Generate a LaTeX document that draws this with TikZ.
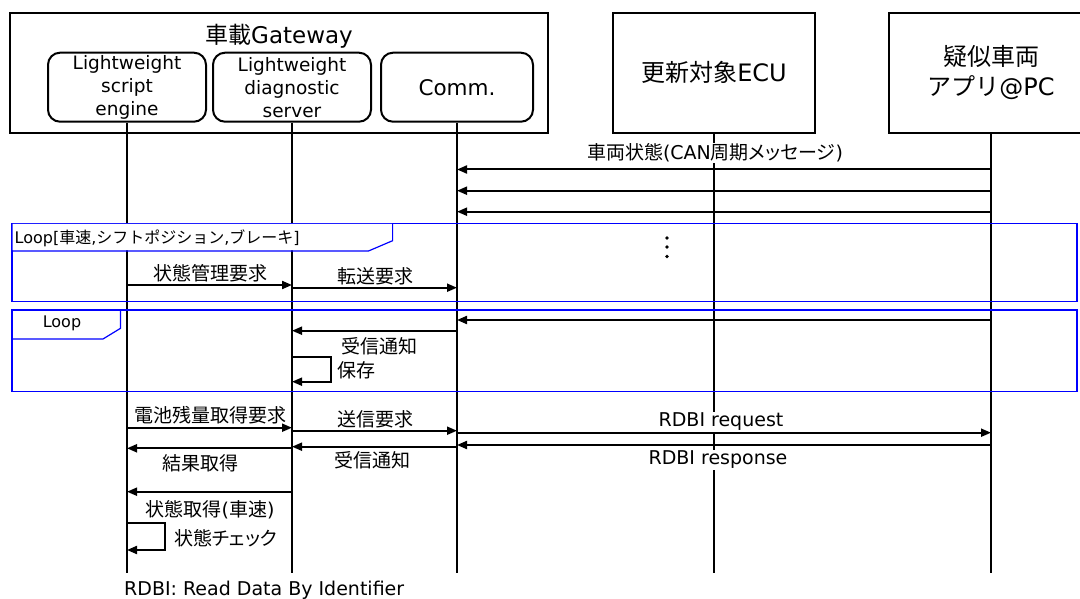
\documentclass[tikz,border=0pt]{standalone}
\usepackage{fontspec}
\setmainfont{DejaVu Sans}
\newfontfamily\jpfont{Noto Sans CJK JP}
\newfontfamily\jppfont{Noto Sans CJK JP}[RawFeature=+palt]
\newcommand\jtxt[1]{{\jpfont #1}}
\newcommand\jptxt[1]{{\jppfont #1}}
\usetikzlibrary{arrows.meta}
\begin{document}
\begin{tikzpicture}[x=1pt,y=-1pt,
  box/.style={draw, line width=2pt, inner sep=0pt, align=center},
  comp/.style={draw, line width=2pt, rounded corners=12pt, minimum width=158pt,
    minimum height=69pt, inner sep=0pt, align=center, font=\fontsize{18.5}{23}\selectfont},
  life/.style={line width=2pt},
  msg/.style={line width=2pt, -{Triangle[length=10pt,width=8pt]}},
  lbl/.style={font=\fontsize{19}{23}\selectfont, inner sep=1pt},
  frame/.style={draw=blue, line width=1.2pt},
  looplbl/.style={font=\fontsize{16}{19}\selectfont, inner sep=0pt}]
\useasboundingbox (0,0) rectangle (1080,599);
\fill[white] (0,0) rectangle (1080,599);

% heads
\draw[box] (10,12.7) rectangle (547.7,132.7);
\node[font=\fontsize{23}{27}\selectfont, inner sep=0pt] (gwt) at (279,36.7) {\jtxt{車載}Gateway};
\node[comp] (eng) at (127,87.2) {Lightweight\\script\\engine};
\node[comp] (srv) at (292,87.2) {Lightweight\\diagnostic\\server};
\node[comp, minimum width=152pt, font=\fontsize{21.5}{25}\selectfont] (com) at (457,87.2) {Comm.};
\node[box, minimum width=202pt, minimum height=120pt, font=\fontsize{24}{30}\selectfont] (ecu) at (714,72.7) {\jtxt{更新対象}ECU};
\node[box, minimum width=204pt, minimum height=120pt, font=\fontsize{24}{30}\selectfont] (pc) at (991,72.7) {\jtxt{疑似車両}\\\jtxt{アプリ}@PC};

% lifelines
\draw[life] (eng.south) -- (eng.south |- 0,572.7);
\draw[life] (srv.south) -- (srv.south |- 0,572.7);
\draw[life] (com.south) -- (com.south |- 0,572.7);
\draw[life] (ecu.south) -- (ecu.south |- 0,572.7);
\draw[life] (pc.south) -- (pc.south |- 0,572.7);

% periodic CAN messages
\node[lbl, fill=white] (can) at (715,153) {\jptxt{車両状態}(CAN\jptxt{周期メッセージ})};
\draw[msg] (pc.south |- 0,169.5) -- (com.south |- 0,169.5);
\draw[msg] (pc.south |- 0,190.7) -- (com.south |- 0,190.7);
\draw[msg] (pc.south |- 0,211.7) -- (com.south |- 0,211.7);

% Loop 1
\draw[frame] (12,223.3) rectangle (1077,301.7);
\fill[white] (12.6,223.9) -- (392,223.9) -- (392,240.7) -- (368.5,250.4) -- (12.6,250.4) -- cycle;
\draw[frame] (12,251) -- (368.5,251) -- (392.6,240.7) -- (392.6,223.3);
\node[looplbl, anchor=west] (l1) at (14.5,238.3) {Loop[\jtxt{車速},\jtxt{シフトポジション},\jtxt{ブレーキ}]};
\fill (667,238) circle (1.8);
\fill (667,247) circle (1.8);
\fill (667,256.5) circle (1.8);
\draw[msg] (eng.south |- 0,285) -- (srv.south |- 0,285);
\node[lbl] (m1) at (210,273.3) {\jtxt{状態管理要求}};
\draw[msg] (srv.south |- 0,287.7) -- (com.south |- 0,287.7);
\node[lbl] (m2) at (375,276) {\jtxt{転送要求}};

% Loop 2
\draw[frame] (12,310) rectangle (1077,391.7);
\draw[frame] (12,339) -- (103,339) -- (120.5,328.3) -- (120.5,310);
\node[looplbl] (l2) at (62,323.3) {Loop};
\draw[msg] (pc.south |- 0,320) -- (com.south |- 0,320);
\draw[msg] (com.south |- 0,330.7) -- (srv.south |- 0,330.7);
\node[lbl] (m3) at (379,346.7) {\jtxt{受信通知}};
\draw[msg] (srv.south |- 0,356.7) -- ++(38.7,0) -- ++(0,25) -- (srv.south |- 0,381.7);
\node[lbl, anchor=west] (m4) at (336.5,370) {\jtxt{保存}};

% battery request
\draw[msg] (eng.south |- 0,427.7) -- (srv.south |- 0,427.7);
\node[lbl] (m5) at (210,415) {\jtxt{電池残量取得要求}};
\draw[msg] (srv.south |- 0,430.7) -- (com.south |- 0,430.7);
\node[lbl] (m6) at (375,419.3) {\jtxt{送信要求}};
\draw[msg] (com.south |- 0,432.7) -- (pc.south |- 0,432.7);
\node[lbl, fill=white] (m7) at (721,421.7) {RDBI request};
\draw[msg] (pc.south |- 0,445) -- (com.south |- 0,445);
\draw[msg] (com.south |- 0,446.7) -- (srv.south |- 0,446.7);
\draw[msg] (srv.south |- 0,448.3) -- (eng.south |- 0,448.3);
\node[lbl] (m8) at (200.5,463.3) {\jtxt{結果取得}};
\node[lbl] (m9) at (372.8,460) {\jtxt{受信通知}};
\node[lbl, fill=white] (m10) at (718,460) {RDBI response};

% state check
\draw[msg] (srv.south |- 0,491.7) -- (eng.south |- 0,491.7);
\node[lbl] (m11) at (210,509.3) {\jtxt{状態取得}(\jtxt{車速})};
\draw[msg] (eng.south |- 0,523.3) -- ++(38,0) -- ++(0,26.7) -- (eng.south |- 0,550);
\node[lbl, anchor=west] (m12) at (173,538.3) {\jptxt{状態チェック}};

\node[lbl, anchor=west, inner sep=0pt] (foot) at (124,590) {RDBI: Read Data By Identifier};
\end{tikzpicture}
\end{document}
